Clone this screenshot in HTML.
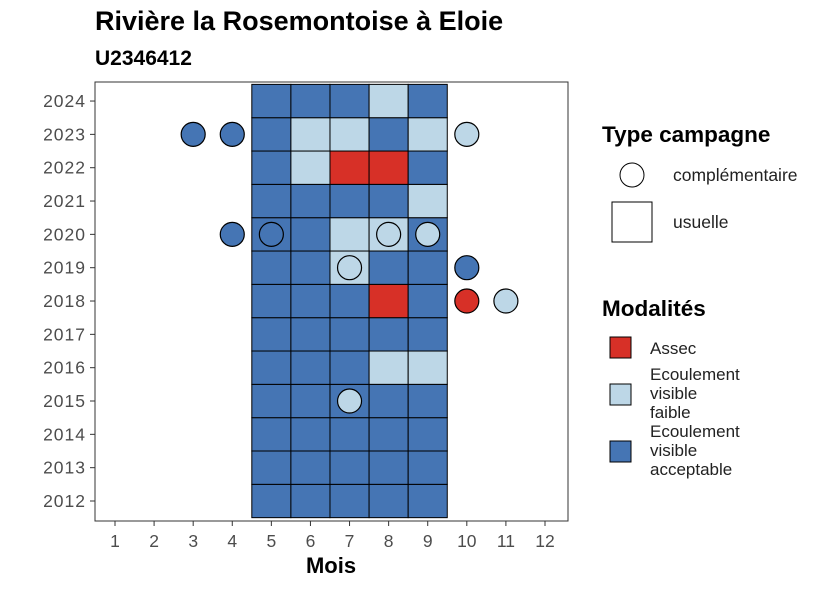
<!DOCTYPE html>
<html><head><meta charset="utf-8"><style>
body{margin:0;background:#fff;font-family:"Liberation Sans",sans-serif;}
svg text{font-family:"Liberation Sans",sans-serif;}
</style></head><body>
<svg id="chart" width="826" height="590" xmlns="http://www.w3.org/2000/svg">
<text x="95" y="30" font-size="27" font-weight="bold">Rivière la Rosemontoise à Eloie</text>
<text x="95" y="65" font-size="21" font-weight="bold">U2346412</text>
<rect x="95" y="82" width="473" height="439" fill="#fff" stroke="#333" stroke-width="1"/>
<g id="tiles"></g><g id="points"></g><g id="axes"></g>
<text x="331" y="573" font-size="22" font-weight="bold" text-anchor="middle">Mois</text>
<text x="602" y="142" font-size="22.5" font-weight="bold">Type campagne</text>
<circle cx="632" cy="175" r="12" fill="#fff" stroke="#000"/>
<text x="673" y="181" font-size="17.5" fill="#222">complémentaire</text>
<rect x="612" y="202" width="40" height="40" fill="#fff" stroke="#000"/>
<text x="673" y="228" font-size="17.5" fill="#222">usuelle</text>
<text x="602" y="316" font-size="22.5" font-weight="bold">Modalités</text>
<rect x="610" y="337" width="21" height="21" fill="#d73027" stroke="#000"/>
<text x="650" y="354" font-size="17" fill="#222">Assec</text>
<rect x="610" y="384" width="21" height="21" fill="#bdd7e7" stroke="#000"/>
<text x="650" y="380" font-size="17" fill="#222"><tspan x="650">Ecoulement</tspan><tspan x="650" dy="19">visible</tspan><tspan x="650" dy="19">faible</tspan></text>
<rect x="610" y="441" width="21" height="21" fill="#4575b4" stroke="#000"/>
<text x="650" y="437" font-size="17" fill="#222"><tspan x="650">Ecoulement</tspan><tspan x="650" dy="19">visible</tspan><tspan x="650" dy="19">acceptable</tspan></text>
</svg>
<script>
const months=[1,2,3,4,5,6,7,8,9,10,11,12];
const years=[2012,2013,2014,2015,2016,2017,2018,2019,2020,2021,2022,2023,2024];
const tileMonths=[5,6,7,8,9];
// D=acceptable, L=faible, R=assec ; rows per year (2012..2024)
const tileValues=[
"DDDDD","DDDDD","DDDDD","DDDDD","DDDLL","DDDDD","DDDRD","DDLDD","DDLLD","DDDDL","DLRRD","DLLDL","DDDLD"];
const pointYears=[2023,2023,2023,2020,2020,2020,2020,2019,2019,2018,2018,2015];
const pointMonths=[3,4,10,4,5,8,9,7,10,10,11,7];
const pointValues=["D","D","L","D","D","L","L","L","D","R","L","L"];
const colors={D:"#4575b4",L:"#bdd7e7",R:"#d73027"};
const xs=m=>115+(m-1)*39.09;
const ys=y=>501-(y-2012)*33.33;
const NS="http://www.w3.org/2000/svg";
const tg=document.getElementById('tiles'),pg=document.getElementById('points'),ag=document.getElementById('axes');
years.forEach((y,i)=>{tileMonths.forEach((m,j)=>{
const r=document.createElementNS(NS,'rect');
r.setAttribute('x',xs(m)-19.55);r.setAttribute('y',ys(y)-16.67);
r.setAttribute('width',39.09);r.setAttribute('height',33.33);
r.setAttribute('fill',colors[tileValues[i][j]]);r.setAttribute('stroke','#000');


tg.appendChild(r);});});
pointYears.forEach((y,i)=>{
const c=document.createElementNS(NS,'circle');
c.setAttribute('cx',xs(pointMonths[i]));c.setAttribute('cy',ys(y));c.setAttribute('r',12);
c.setAttribute('fill',colors[pointValues[i]]);c.setAttribute('stroke','#000');c.setAttribute('stroke-width','1.2');


pg.appendChild(c);});
months.forEach(m=>{
const l=document.createElementNS(NS,'line');
l.setAttribute('x1',xs(m));l.setAttribute('x2',xs(m));l.setAttribute('y1',521);l.setAttribute('y2',526);l.setAttribute('stroke','#333');


ag.appendChild(l);
const t=document.createElementNS(NS,'text');
t.setAttribute('x',xs(m));t.setAttribute('y',547);t.setAttribute('text-anchor','middle');t.setAttribute('font-size','17.5');t.setAttribute('fill','#4d4d4d');
t.textContent=m;


ag.appendChild(t);});
years.forEach(y=>{
const l=document.createElementNS(NS,'line');
l.setAttribute('x1',90);l.setAttribute('x2',95);l.setAttribute('y1',ys(y));l.setAttribute('y2',ys(y));l.setAttribute('stroke','#333');


ag.appendChild(l);
const t=document.createElementNS(NS,'text');
t.setAttribute('x',86);t.setAttribute('y',ys(y)+6);t.setAttribute('text-anchor','end');t.setAttribute('font-size','17.5');t.setAttribute('fill','#4d4d4d');t.setAttribute('letter-spacing','1');
t.textContent=y;


ag.appendChild(t);});
</script>
</body></html>
